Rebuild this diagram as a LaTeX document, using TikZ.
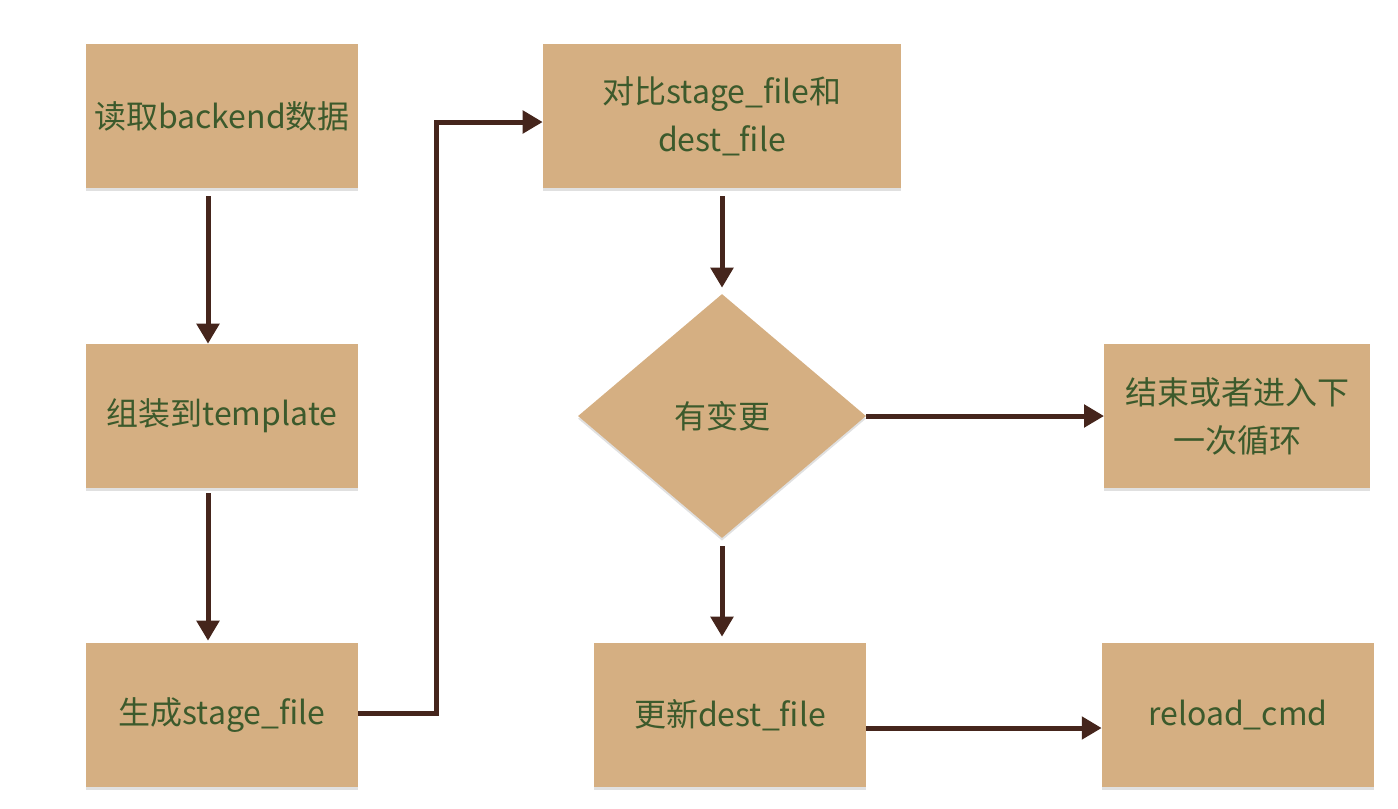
\documentclass[tikz,border=0pt]{standalone}
\usepackage{fontspec}
\setmainfont{Noto Sans CJK SC}
\usetikzlibrary{arrows.meta,shapes.geometric,shadows,calc}
\definecolor{boxfill}{HTML}{D5AF82}
\definecolor{txt}{HTML}{3C5A2C}
\definecolor{arr}{HTML}{45251C}
\begin{document}
\begin{tikzpicture}[x=0.75pt,y=-0.75pt,
  every node/.style={font=\fontsize{24pt}{36pt}\selectfont, text=txt, align=center},
  softshadow/.style={drop shadow={shadow xshift=0pt, shadow yshift=-2pt, opacity=0.12, fill=black}},
  boxstyle/.style={rectangle, fill=boxfill, inner sep=0pt, minimum height=108pt, softshadow},
  decision/.style={diamond, fill=boxfill, inner sep=0pt, minimum width=216pt, minimum height=183pt, softshadow},
  link/.style={draw=arr, line width=3.75pt, -{Triangle[length=15pt,width=16.5pt]}}
]
\useasboundingbox (0,0) rectangle (1398,808);
\node[boxstyle, minimum width=204pt] (A) at (222,116) {读取backend数据};
\node[boxstyle, minimum width=204pt] (B) at (222,416) {组装到template};
\node[boxstyle, minimum width=204pt] (C) at (222,715) {生成stage\_file};
\node[boxstyle, minimum width=268.5pt] (D) at (722,116) {对比stage\_file和\\dest\_file};
\node[decision] (E) at (722,416) {有变更};
\node[boxstyle, minimum width=199pt] (F) at (1237,416) {结束或者进入下\\一次循环};
\node[boxstyle, minimum width=204pt] (G) at (730,715) {更新dest\_file};
\node[boxstyle, minimum width=204pt] (H) at (1238,715) {reload\_cmd};
\coordinate (bend) at (436,122);
\draw[link] ($(A.south)+(-14,8)$) -- ($(B.north)+(-14,0)$);
\draw[link] ($(B.south)+(-14,5)$) -- ($(C.north)+(-14,-2)$);
\draw[link] ($(D.south)+(0,8)$) -- ($(E.north)+(0,-6)$);
\draw[link] (E.east) -- (F.west);
\draw[link] ($(E.south)+(0,8)$) -- ($(G.north)+(-8,-6)$);
\draw[link] ($(G.east)+(0,13)$) -- ($(H.west)+(0,13)$);
\draw[link, line join=miter] ($(C.east)+(0,-2)$) -| (bend) -- (bend -| D.west);
\end{tikzpicture}
\end{document}
